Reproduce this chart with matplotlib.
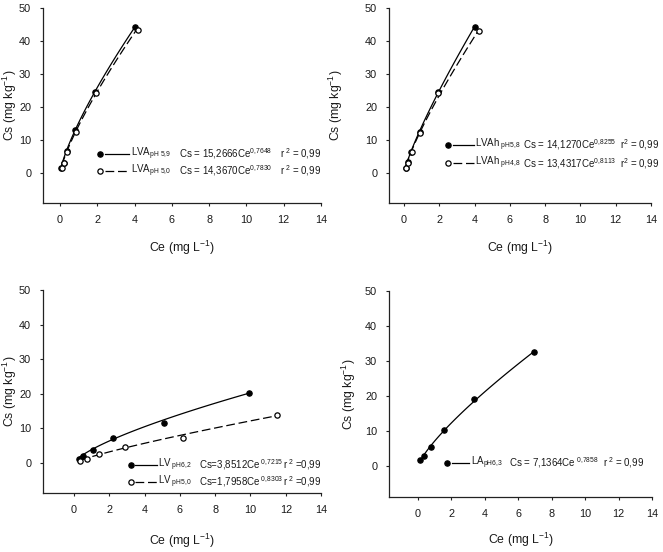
import numpy as np
import matplotlib
matplotlib.use("Agg")
import matplotlib.pyplot as plt

plt.rcParams['font.family'] = ['Liberation Sans', 'DejaVu Sans']
plt.rcParams['mathtext.fontset'] = 'custom'
plt.rcParams['mathtext.rm'] = 'Liberation Sans'
plt.rcParams['mathtext.it'] = 'Liberation Sans:italic'
plt.rcParams['mathtext.bf'] = 'Liberation Sans:bold'
plt.rcParams['mathtext.default'] = 'regular'

# ---- data ----
# Panel A: LVA
lva59_ce = [0.08, 0.20, 0.38, 0.82, 1.88, 4.02]
lva59_cs = [1.6, 3.2, 6.6, 13.0, 24.7, 44.1]
lva50_ce = [0.11, 0.21, 0.38, 0.86, 1.92, 4.17]
lva50_cs = [1.5, 3.1, 6.4, 12.5, 24.4, 43.4]
# Panel B: LVAh
lvah58_ce = [0.10, 0.22, 0.42, 0.88, 1.93, 4.00]
lvah58_cs = [1.6, 3.3, 6.5, 12.5, 24.5, 44.1]
lvah48_ce = [0.11, 0.25, 0.44, 0.90, 1.95, 4.25]
lvah48_cs = [1.5, 3.2, 6.3, 12.3, 24.2, 43.1]
# Panel C: LV
lv62_ce = [0.28, 0.53, 1.10, 2.23, 5.10, 9.94]
lv62_cs = [1.1, 2.1, 3.8, 7.2, 11.6, 20.3]
lv50_ce = [0.36, 0.75, 1.40, 2.87, 6.20, 11.50]
lv50_cs = [0.6, 1.2, 2.6, 4.6, 7.3, 13.9]
# Panel D: LA
la63_ce = [0.14, 0.38, 0.78, 1.54, 3.35, 6.93]
la63_cs = [1.7, 2.9, 5.3, 10.2, 19.1, 32.6]

# Freundlich fit coefficients printed on the chart (Cs = a * Ce^b)
fit_a = {'lva59': 15.2666, 'lva50': 14.3670, 'lvah58': 14.1270, 'lvah48': 13.4317,
         'lv62': 3.8512, 'lv50': 1.7958, 'la63': 7.1364}
fit_b = {'lva59': 0.7648, 'lva50': 0.7830, 'lvah58': 0.8255, 'lvah48': 0.8113,
         'lv62': 0.7215, 'lv50': 0.8303, 'la63': 0.7858}

x_ticks = [0, 2, 4, 6, 8, 10, 12, 14]
y_ticks = [0, 10, 20, 30, 40, 50]

TXT = '#1a1a1a'
W, H = 663, 552
fig = plt.figure(figsize=(W / 100, H / 100), dpi=100)


def px_axes(l, r, t, b):
    return fig.add_axes([l / W, 1 - b / H, (r - l) / W, (b - t) / H])


def style(ax, xmin, ymin, ylab_x, xlab_y):
    ax.set_xlim(xmin, 14)
    ax.set_ylim(ymin, 50)
    ax.set_xticks(x_ticks)
    ax.set_yticks(y_ticks)
    for s in ('top', 'right'):
        ax.spines[s].set_visible(False)
    for s in ('left', 'bottom'):
        ax.spines[s].set_linewidth(0.9)
        ax.spines[s].set_color('#222222')
    ax.tick_params(direction='out', length=2.5, width=0.8, labelsize=7.8,
                   colors='#222222', labelcolor=TXT, pad=6)
    ax.set_xlabel('Ce (mg L$^{-1}$)', fontsize=8.8, color=TXT)
    ax.set_ylabel('Cs (mg kg$^{-1}$)', fontsize=8.8, color=TXT)
    ax.yaxis.set_label_coords(ylab_x, 0.5)
    ax.xaxis.set_label_coords(0.5, xlab_y)


def series(ax, ce, cs, key, filled, dashed):
    xs = np.linspace(min(ce), max(ce), 100)
    ax.plot(xs, fit_a[key] * xs ** fit_b[key], color='black', lw=0.9,
            dashes=(7, 3) if dashed else (None, None))
    ax.plot(ce, cs, 'o', ms=3.8, mec='black', mew=0.9,
            mfc='black' if filled else 'white', zorder=3)


def legend_row(ax, y, mx, l0, l1, name, eq, r2, xn, xe, xr, filled, dashed):
    ax.plot([mx], [y], 'o', ms=3.8, mec='black', mew=0.9,
            mfc='black' if filled else 'white', transform=ax.transAxes, clip_on=False)
    ax.plot([l0, l1], [y, y], color='black', lw=0.9, transform=ax.transAxes,
            dashes=(7, 3) if dashed else (None, None), clip_on=False)
    for x, t in ((xn, name), (xe, eq), (xr, r2)):
        ax.text(x, y, t, transform=ax.transAxes, fontsize=7.0, color=TXT,
                va='center', ha='left')


# Panel A
ax1 = px_axes(43, 321, 8, 203)
series(ax1, lva59_ce, lva59_cs, 'lva59', True, False)
series(ax1, lva50_ce, lva50_cs, 'lva50', False, True)
style(ax1, -0.91, -9, -0.088, -0.185)
legend_row(ax1, 0.251, 0.205, 0.222, 0.311, r'LVA$_{pH\ 5{,}9}$',
           r'Cs = 15,2666Ce$^{0{,}7648}$', r'r$^{\ 2}$ = 0,99', 0.316, 0.49, 0.853, True, False)
legend_row(ax1, 0.164, 0.205, 0.222, 0.311, r'LVA$_{pH\ 5{,}0}$',
           r'Cs = 14,3670Ce$^{0{,}7830}$', r'r$^{\ 2}$ = 0,99', 0.316, 0.49, 0.853, False, True)

# Panel B
ax2 = px_axes(389, 651, 8, 203)
series(ax2, lvah58_ce, lvah58_cs, 'lvah58', True, False)
series(ax2, lvah48_ce, lvah48_cs, 'lvah48', False, True)
style(ax2, -0.85, -9, -0.168, -0.185)
legend_row(ax2, 0.297, 0.226, 0.243, 0.324, r'LVAh$_{\ pH5{,}8}$',
           r'Cs = 14,1270Ce$^{0{,}8255}$', r'r$^{2}$ = 0,99', 0.330, 0.513, 0.882, True, False)
legend_row(ax2, 0.204, 0.226, 0.243, 0.324, r'LVAh$_{\ pH4{,}8}$',
           r'Cs = 13,4317Ce$^{0{,}8113}$', r'r$^{2}$ = 0,99', 0.330, 0.513, 0.882, False, True)

# Panel C
ax3 = px_axes(43, 321, 290, 493)
series(ax3, lv62_ce, lv62_cs, 'lv62', True, False)
series(ax3, lv50_ce, lv50_cs, 'lv50', False, True)
style(ax3, -1.76, -8.7, -0.088, -0.19)
legend_row(ax3, 0.139, 0.315, 0.332, 0.409, r'LV$_{\ pH6{,}2}$',
           r'Cs=3,8512Ce$^{\ 0{,}7215}$', r'r$^{\ 2}$ =0,99', 0.413, 0.561, 0.862, True, False)
legend_row(ax3, 0.056, 0.315, 0.332, 0.409, r'LV$_{\ pH5{,}0}$',
           r'Cs=1,7958Ce$^{\ 0{,}8303}$', r'r$^{\ 2}$ =0,99', 0.413, 0.561, 0.862, False, True)

# Panel D
ax4 = px_axes(389, 652, 291, 497)
series(ax4, la63_ce, la63_cs, 'la63', True, False)
style(ax4, -1.74, -8.9, -0.118, -0.165)
legend_row(ax4, 0.167, 0.219, 0.238, 0.306, r'LA$_{pH6{,}3}$',
           r'Cs = 7,1364Ce$^{\ 0{,}7858}$', r'r$^{\ 2}$ = 0,99', 0.311, 0.456, 0.815, True, False)

fig.savefig('out.png', dpi=100)
